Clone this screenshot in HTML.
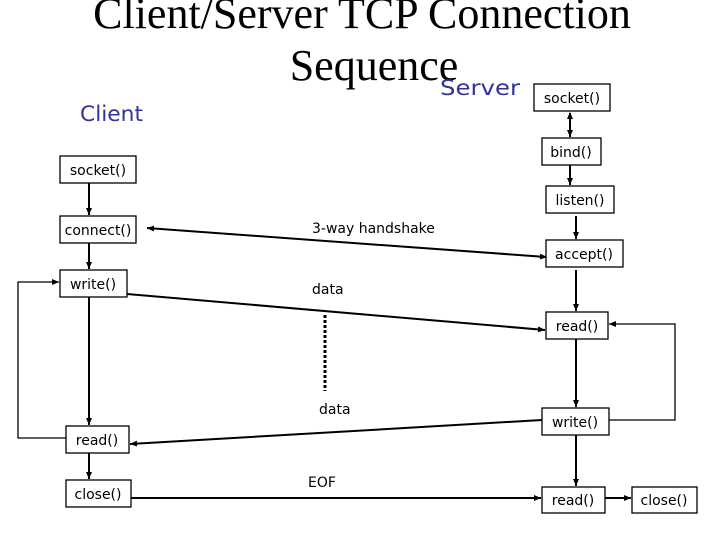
<!DOCTYPE html>
<html><head><style>
html,body{margin:0;padding:0;background:#fff;}
svg{display:block;}
.b{fill:#fff;stroke:#000;stroke-width:1.3;}
.t{font-family:"DejaVu Sans","Liberation Sans",sans-serif;font-size:14px;fill:#000;}
.l{stroke:#000;stroke-width:2;fill:none;}
.th{stroke:#000;stroke-width:1.3;fill:none;}
</style></head><body>
<svg width="720" height="540" viewBox="0 0 720 540" xmlns="http://www.w3.org/2000/svg">
<defs>
<marker id="a" markerWidth="8" markerHeight="8" refX="7" refY="4" orient="auto" markerUnits="userSpaceOnUse">
<path d="M0,1 L7,4 L0,7 Z" fill="#000"/></marker>
<marker id="s" markerWidth="8" markerHeight="8" refX="1" refY="4" orient="auto" markerUnits="userSpaceOnUse">
<path d="M7,1 L0,4 L7,7 Z" fill="#000"/></marker>
</defs>
<text x="362" y="28" text-anchor="middle" font-family="Liberation Serif,serif" font-size="44">Client/Server TCP Connection</text>
<text x="374" y="80" text-anchor="middle" font-family="Liberation Serif,serif" font-size="44">Sequence</text>
<text x="440" y="95" font-family="DejaVu Sans,sans-serif" font-size="21" fill="#33339a" textLength="80" lengthAdjust="spacingAndGlyphs">Server</text>
<text x="80" y="121" font-family="DejaVu Sans,sans-serif" font-size="21" fill="#33339a" textLength="63" lengthAdjust="spacingAndGlyphs">Client</text>

<rect class="b" x="60" y="156" width="76" height="27"/><text class="t" x="98" y="175" text-anchor="middle">socket()</text>
<rect class="b" x="60" y="216" width="76" height="27"/><text class="t" x="98" y="235" text-anchor="middle">connect()</text>
<rect class="b" x="60" y="270" width="67" height="27"/><text class="t" x="93" y="289" text-anchor="middle">write()</text>
<rect class="b" x="66" y="426" width="63" height="27"/><text class="t" x="97" y="445" text-anchor="middle">read()</text>
<rect class="b" x="66" y="480" width="65" height="27"/><text class="t" x="98" y="499" text-anchor="middle">close()</text>

<rect class="b" x="534" y="84" width="76" height="27"/><text class="t" x="572" y="103" text-anchor="middle">socket()</text>
<rect class="b" x="542" y="138" width="59" height="27"/><text class="t" x="571" y="157" text-anchor="middle">bind()</text>
<rect class="b" x="546" y="186" width="68" height="27"/><text class="t" x="580" y="205" text-anchor="middle">listen()</text>
<rect class="b" x="546" y="240" width="77" height="27"/><text class="t" x="584" y="259" text-anchor="middle">accept()</text>
<rect class="b" x="546" y="312" width="62" height="27"/><text class="t" x="577" y="331" text-anchor="middle">read()</text>
<rect class="b" x="542" y="408" width="67" height="27"/><text class="t" x="575" y="427" text-anchor="middle">write()</text>
<rect class="b" x="542" y="487" width="63" height="26"/><text class="t" x="573" y="505" text-anchor="middle">read()</text>
<rect class="b" x="632" y="487" width="65" height="26"/><text class="t" x="664" y="505" text-anchor="middle">close()</text>

<line class="l" x1="89" y1="183" x2="89" y2="215" marker-end="url(#a)"/>
<line class="l" x1="89" y1="243" x2="89" y2="269" marker-end="url(#a)"/>
<line class="l" x1="89" y1="297" x2="89" y2="425" marker-end="url(#a)"/>
<line class="l" x1="89" y1="453" x2="89" y2="479" marker-end="url(#a)"/>
<polyline class="th" points="66,438 18,438 18,282 59,282" marker-end="url(#a)"/>

<line class="l" x1="570" y1="113" x2="570" y2="137" marker-start="url(#s)" marker-end="url(#a)"/>
<line class="l" x1="570" y1="165" x2="570" y2="185" marker-end="url(#a)"/>
<line class="l" x1="576" y1="216" x2="576" y2="239" marker-end="url(#a)"/>
<line class="l" x1="576" y1="270" x2="576" y2="311" marker-end="url(#a)"/>
<line class="l" x1="576" y1="339" x2="576" y2="407" marker-end="url(#a)"/>
<line class="l" x1="576" y1="435" x2="576" y2="486" marker-end="url(#a)"/>
<polyline class="th" points="609,420 675,420 675,324 609,324" marker-end="url(#a)"/>
<line class="l" x1="605" y1="498" x2="631" y2="498" marker-end="url(#a)"/>

<line class="l" x1="546" y1="257" x2="147" y2="228" marker-start="url(#s)" marker-end="url(#a)"/>
<line class="l" x1="127" y1="294" x2="545" y2="330" marker-end="url(#a)"/>
<line class="l" x1="542" y1="420" x2="130" y2="444" marker-end="url(#a)"/>
<line class="l" x1="131" y1="498" x2="541" y2="498" marker-end="url(#a)"/>
<line x1="325" y1="315" x2="325" y2="391" stroke="#000" stroke-width="3" stroke-dasharray="3,2"/>

<text class="t" x="312" y="233">3-way handshake</text>
<text class="t" x="312" y="294">data</text>
<text class="t" x="319" y="414">data</text>
<text class="t" x="308" y="487" font-size="15">EOF</text>
</svg>
</body></html>
